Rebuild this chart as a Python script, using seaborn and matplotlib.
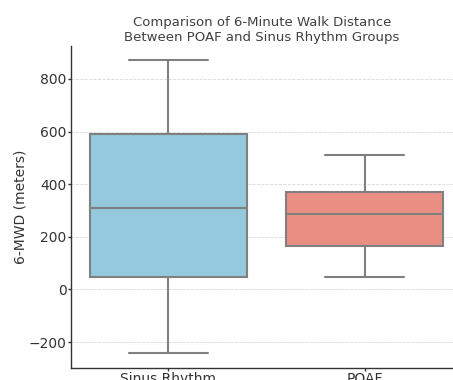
import matplotlib
matplotlib.use("Agg")
import matplotlib.pyplot as plt
import seaborn as sns
import pandas as pd

groups = ["Sinus Rhythm", "POAF"]
# five-number summaries: low whisker, Q1, median, Q3, high whisker
sinus_values = [-240, 46, 308, 590, 871]
poaf_values = [47, 165, 287, 369, 510]
palette = ["skyblue", "salmon"]

df = pd.DataFrame({
    "Group": [groups[0]] * len(sinus_values) + [groups[1]] * len(poaf_values),
    "6MWD": sinus_values + poaf_values,
})

sns.set_style("whitegrid")
plt.rcParams['font.family'] = ['DejaVu Sans']
fig = plt.figure(figsize=(4.53, 3.80), dpi=100)
ax = fig.add_axes([0.1567, 0.0324, 0.8433, 0.8466])

sns.boxplot(data=df, x="Group", y="6MWD", hue="Group", palette=palette,
            order=groups, width=0.8, linecolor="#808080", linewidth=1.5,
            legend=False, ax=ax, whis=1.5, showfliers=False)

ax.set_xlim(-0.496, 1.45)
ax.set_ylim(-297, 925)
ax.set_yticks([-200, 0, 200, 400, 600, 800])
ax.yaxis.grid(True, linestyle="--", linewidth=0.6, color="#dadada")
ax.xaxis.grid(False)
sns.despine(ax=ax)
for s in ["left", "bottom"]:
    ax.spines[s].set_color("#333333")
    ax.spines[s].set_linewidth(1.0)
ax.tick_params(axis="y", length=2.2, width=1, color="#333333", pad=1,
               labelsize=10, labelcolor="#333333", left=True)
ax.tick_params(axis="x", length=2, width=1, color="#333333", pad=0.8,
               labelsize=10, labelcolor="#333333", bottom=True)
ax.set_xlabel("")
ax.set_ylabel("6-MWD (meters)", fontsize=10, color="#333333", labelpad=0.8)
ax.set_title("Comparison of 6-Minute Walk Distance\nBetween POAF and Sinus Rhythm Groups",
             fontsize=9.5, color="#404040", pad=3.5)

fig.savefig("out.png", dpi=100)
